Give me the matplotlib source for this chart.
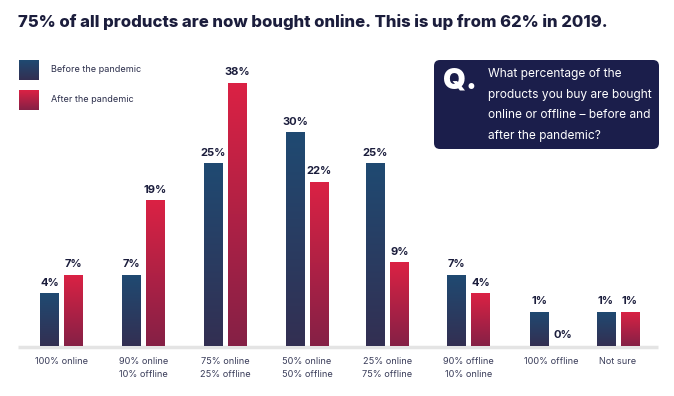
import numpy as np
import matplotlib.pyplot as plt
from matplotlib.colors import LinearSegmentedColormap
from matplotlib.patches import FancyBboxPatch, Rectangle

plt.rcParams['font.family'] = ['Inter', 'DejaVu Sans']

# data
categories = ["100% online", "90% online\n10% offline", "75% online\n25% offline",
              "50% online\n50% offline", "25% online\n75% offline", "90% offline\n10% online",
              "100% offline", "Not sure"]
before = [4, 7, 25, 30, 25, 7, 1, 1]
after = [7, 19, 38, 22, 9, 4, 0, 1]
series_names = ["Before the pandemic", "After the pandemic"]

title = "75% of all products are now bought online. This is up from 62% in 2019."
question = "What percentage of the\nproducts you buy are bought\nonline or offline \u2013 before and\nafter the pandemic?"

W, H = 674, 396
navy = "#1b1d3c"
blue_cm = LinearSegmentedColormap.from_list("b", ["#1f4a72", "#332f52"])
red_cm = LinearSegmentedColormap.from_list("r", ["#db2244", "#852046"])

# layout (pixels)
group_x = [61.5, 143.5, 225, 307, 387.5, 468.5, 551, 618]
base_px = 346       # baseline, from top
px_per_pct = 6.2
pad = 4.5           # visual minimum bar stub, in % units
bar_w = 19
off = 12

fig = plt.figure(figsize=(W / 100, H / 100), dpi=100)
ax = fig.add_axes([0, 0, 1, 1])
ax.set_xlim(0, W)
ax.set_ylim(-(H - base_px) / px_per_pct, base_px / px_per_pct)
ax.axis("off")

def py(top_px):
    # pixel from top -> data y
    return (base_px - top_px) / px_per_pct

def grad_rect(x0, x1, y0, y1, cmap, z=2):
    r = Rectangle((x0, y0), x1 - x0, y1 - y0, facecolor="none", edgecolor="none")
    ax.add_patch(r)
    grad = np.linspace(0, 1, 256).reshape(-1, 1)
    # row 0 (top colour) drawn at y1
    im = ax.imshow(grad, cmap=cmap, extent=(x0, x1, y0, y1), origin="upper",
                   aspect="auto", zorder=z, interpolation="bilinear")
    im.set_clip_path(r)

for i, cx in enumerate(group_x):
    for v, dx, cm in [(before[i], -off, blue_cm), (after[i], off, red_cm)]:
        x = cx + dx
        top = (v + pad) if v > 0 else 0
        if v > 0:
            grad_rect(x - bar_w / 2, x + bar_w / 2, 0, top, cm)
        ax.text(x, top + 0.9, f"{v}%", ha="center", va="bottom",
                fontsize=8, fontweight="bold", color=navy, zorder=3)
    ax.text(cx, py(357), categories[i], ha="center", va="top", fontsize=6.6,
            color="#3a3d5a", linespacing=1.55)

# baseline
ax.plot([18, 658], [py(347), py(347)], color="#e4e4e4", lw=2.5, zorder=1,
        solid_capstyle="butt")

# title
ax.text(18, py(22), title, ha="left", va="center", fontsize=12,
        fontweight="heavy", color=navy)

# legend
for k, cm in enumerate([blue_cm, red_cm]):
    ytop = 60 + k * 30
    grad_rect(19, 39, py(ytop + 20), py(ytop), cm)
    ax.text(51, py(ytop + 9), series_names[k], ha="left", va="center",
            fontsize=6.5, color="#2a2d4a")

# question box
box = FancyBboxPatch((434, py(149)), 225, (149 - 60) / px_per_pct,
                     boxstyle="round,pad=0,rounding_size=6",
                     mutation_aspect=1 / px_per_pct,
                     facecolor="#1b1e4b", edgecolor="none", zorder=3)
ax.add_patch(box)
ax.text(443, py(81), "Q.", ha="left", va="center", fontsize=21,
        fontweight="black", color="white", zorder=4)
ax.text(488, py(68), question, ha="left", va="top", fontsize=8.6,
        color="white", linespacing=1.95, zorder=4)

fig.savefig("out.png", dpi=100)
